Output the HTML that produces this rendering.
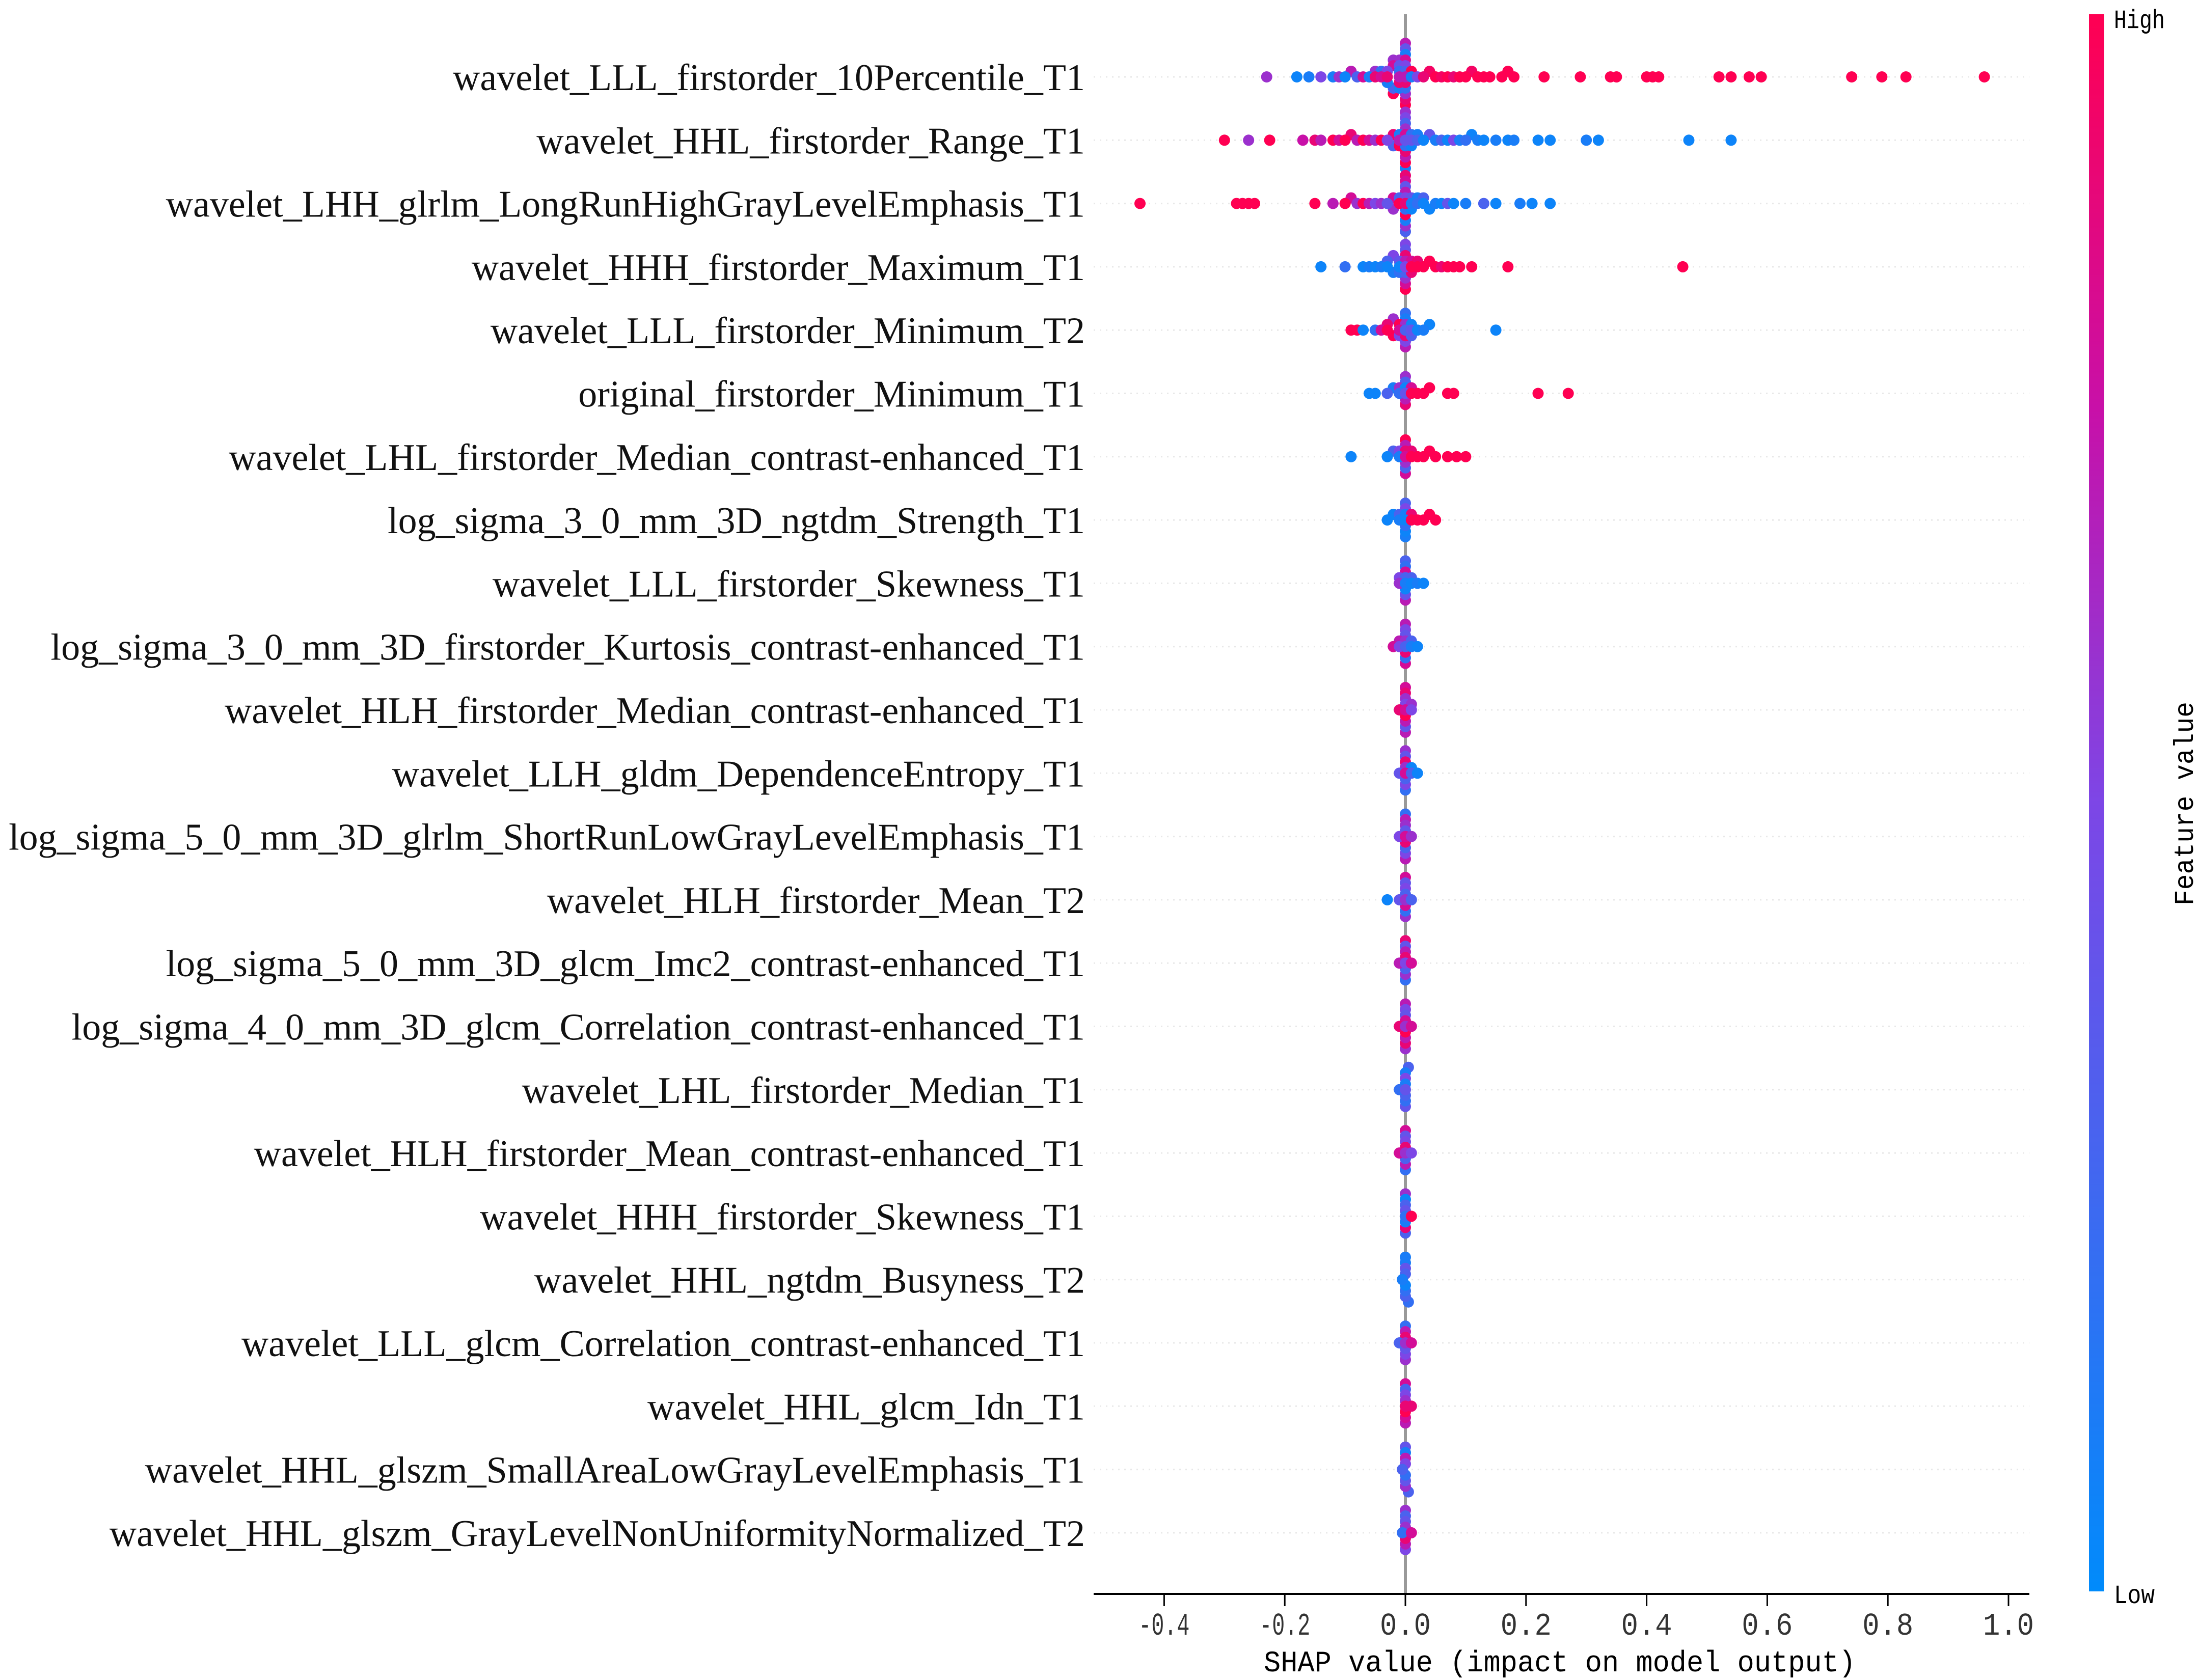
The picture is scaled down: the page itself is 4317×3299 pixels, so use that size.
<!DOCTYPE html>
<html><head><meta charset="utf-8"><title>SHAP summary plot</title>
<style>
html,body{margin:0;padding:0;background:#fff;}
svg{display:block;}
</style></head>
<body>
<svg id="chart" width="4317" height="3299" viewBox="0 0 4317 3299" xmlns="http://www.w3.org/2000/svg">
<defs>
<linearGradient id="cbar" x1="0" y1="1" x2="0" y2="0">
<stop offset="0" stop-color="#008bfb"/>
<stop offset="0.5" stop-color="#7d46e6"/>
<stop offset="0.75" stop-color="#c810a8"/>
<stop offset="1" stop-color="#ff0052"/>
</linearGradient>
</defs>
<g id="grid"></g>
<line x1="2759" y1="28" x2="2759" y2="3130" stroke="#999" stroke-width="6"/>
<g id="dots"></g>
<g id="labels"></g>
<g id="xaxis"></g>
<text x="3062" y="3282" text-anchor="middle" font-family="Liberation Mono, monospace" font-size="58" textLength="1162" lengthAdjust="spacingAndGlyphs">SHAP value (impact on model output)</text>
<rect x="4101" y="28" width="30" height="3097" fill="url(#cbar)"/>
<text x="4150" y="55" font-family="Liberation Mono, monospace" font-size="52" textLength="100" lengthAdjust="spacingAndGlyphs">High</text>
<text x="4150" y="3148" font-family="Liberation Mono, monospace" font-size="52" textLength="80" lengthAdjust="spacingAndGlyphs">Low</text>
<text transform="translate(4305,1578) rotate(-90)" text-anchor="middle" font-family="Liberation Mono, monospace" font-size="54" textLength="400" lengthAdjust="spacingAndGlyphs">Feature value</text>
</svg>
<script>
const features = [
"wavelet_LLL_firstorder_10Percentile_T1",
"wavelet_HHL_firstorder_Range_T1",
"wavelet_LHH_glrlm_LongRunHighGrayLevelEmphasis_T1",
"wavelet_HHH_firstorder_Maximum_T1",
"wavelet_LLL_firstorder_Minimum_T2",
"original_firstorder_Minimum_T1",
"wavelet_LHL_firstorder_Median_contrast-enhanced_T1",
"log_sigma_3_0_mm_3D_ngtdm_Strength_T1",
"wavelet_LLL_firstorder_Skewness_T1",
"log_sigma_3_0_mm_3D_firstorder_Kurtosis_contrast-enhanced_T1",
"wavelet_HLH_firstorder_Median_contrast-enhanced_T1",
"wavelet_LLH_gldm_DependenceEntropy_T1",
"log_sigma_5_0_mm_3D_glrlm_ShortRunLowGrayLevelEmphasis_T1",
"wavelet_HLH_firstorder_Mean_T2",
"log_sigma_5_0_mm_3D_glcm_Imc2_contrast-enhanced_T1",
"log_sigma_4_0_mm_3D_glcm_Correlation_contrast-enhanced_T1",
"wavelet_LHL_firstorder_Median_T1",
"wavelet_HLH_firstorder_Mean_contrast-enhanced_T1",
"wavelet_HHH_firstorder_Skewness_T1",
"wavelet_HHL_ngtdm_Busyness_T2",
"wavelet_LLL_glcm_Correlation_contrast-enhanced_T1",
"wavelet_HHL_glcm_Idn_T1",
"wavelet_HHL_glszm_SmallAreaLowGrayLevelEmphasis_T1",
"wavelet_HHL_glszm_GrayLevelNonUniformityNormalized_T2"
];
const xTicks = [-0.4,-0.2,0.0,0.2,0.4,0.6,0.8,1.0];
const xTickLabels = ["-0.4","-0.2","0.0","0.2","0.4","0.6","0.8","1.0"];
const shapValues = [
[-0.23,-0.18,-0.16,-0.14,-0.12,-0.11,-0.10,-0.09,-0.08,-0.07,-0.06,-0.05,-0.05,-0.04,-0.04,-0.03,-0.03,-0.03,-0.02,-0.02,-0.02,-0.02,-0.01,-0.01,-0.01,-0.01,-0.01,-0.01,0,0,0,0,0,0,0,0,0,0,0,0,0.01,0.01,0.02,0.03,0.04,0.05,0.06,0.07,0.08,0.09,0.10,0.11,0.12,0.13,0.14,0.16,0.17,0.18,0.23,0.29,0.34,0.35,0.40,0.41,0.42,0.52,0.54,0.57,0.59,0.74,0.79,0.83,0.96],
[-0.30,-0.26,-0.225,-0.17,-0.15,-0.14,-0.12,-0.11,-0.10,-0.09,-0.08,-0.07,-0.06,-0.05,-0.04,-0.03,-0.02,-0.02,-0.01,-0.01,-0.01,0,0,0,0,0,0,0,0,0,0,0,0.01,0.01,0.01,0.02,0.02,0.03,0.04,0.05,0.06,0.07,0.08,0.09,0.10,0.11,0.12,0.13,0.15,0.17,0.18,0.22,0.24,0.30,0.32,0.47,0.54],
[-0.44,-0.28,-0.27,-0.26,-0.25,-0.15,-0.12,-0.10,-0.09,-0.08,-0.07,-0.06,-0.05,-0.04,-0.03,-0.02,-0.02,-0.01,-0.01,0,0,0,0,0,0,0,0,0,0,0,0.01,0.01,0.01,0.02,0.02,0.03,0.03,0.04,0.05,0.06,0.07,0.08,0.10,0.13,0.15,0.19,0.21,0.24],
[-0.14,-0.10,-0.07,-0.06,-0.05,-0.04,-0.03,-0.03,-0.02,-0.02,-0.01,-0.01,-0.01,0,0,0,0,0,0,0,0,0,0.01,0.01,0.01,0.02,0.02,0.03,0.04,0.05,0.06,0.07,0.08,0.09,0.11,0.17,0.46],
[-0.09,-0.08,-0.07,-0.05,-0.04,-0.03,-0.03,-0.02,-0.02,-0.01,-0.01,-0.01,0,0,0,0,0,0,0,0.01,0.01,0.01,0.02,0.03,0.04,0.15],
[-0.06,-0.05,-0.03,-0.02,-0.01,-0.01,0,0,0,0,0,0,0.01,0.01,0.02,0.03,0.04,0.07,0.08,0.22,0.27],
[-0.09,-0.03,-0.02,-0.01,-0.01,0,0,0,0,0,0,0,0.01,0.01,0.02,0.03,0.04,0.05,0.07,0.085,0.10],
[-0.03,-0.02,-0.01,-0.01,0,0,0,0,0,0,0,0.01,0.01,0.02,0.03,0.04,0.05],
[-0.01,-0.01,0,0,0,0,0,0,0,0,0.01,0.01,0.02,0.03],
[-0.02,-0.01,-0.01,0,0,0,0,0,0,0,0,0.01,0.01,0.02],
[-0.01,0,0,0,0,0,0,0,0,0,0.01,0.01],
[-0.01,0,0,0,0,0,0,0,0,0.01,0.01,0.02],
[-0.01,0,0,0,0,0,0,0,0,0,0.01],
[-0.03,-0.01,0,0,0,0,0,0,0,0,0.01],
[-0.01,0,0,0,0,0,0,0,0,0.01],
[-0.01,0,0,0,0,0,0,0,0,0,0.01],
[-0.01,0,0,0,0,0,0,0,0.005],
[-0.01,0,0,0,0,0,0,0,0,0.01],
[0,0,0,0,0,0,0,0,0.01],
[-0.005,0,0,0,0,0,0,0,0.005],
[-0.01,0,0,0,0,0,0,0,0.01],
[0,0,0,0,0,0,0,0,0.01],
[-0.005,0,0,0,0,0,0,0,0.005],
[-0.005,0,0,0,0,0,0,0,0.01]
];
const featureValues = [
[0.6,0.05,0.1,0.5,0.1,0.6,0.05,0.7,0.3,0.8,0.1,0.9,0.6,0.8,0.2,0.9,0.5,0.1,0.8,0.3,0.6,1,0.7,0.2,0.9,0.4,0.1,0.6,0.7,0.3,0.9,0.5,0.2,0.8,0.6,0.1,0.9,0.4,1,0.7,0.1,1,0.5,0.9,0.95,1,0.95,1,0.9,1,1,0.95,1,1,1,1,1,1,1,1,1,1,1,1,1,1,1,1,1,1,1,1,1],
[1,0.6,1,0.75,0.9,0.7,1,0.8,1,0.9,0.7,1,0.8,0.6,1,0.5,0.9,0.3,0.7,0.1,1,0.4,0.8,0.2,0.6,0.9,0.3,0.7,0.5,1,0.6,0.1,0.4,0.2,0.05,0.3,0.1,0.05,0.4,0.1,0.3,0.05,0.5,0.1,0.2,0.05,0.1,0.05,0.1,0.05,0.1,0.05,0.05,0.1,0.05,0.05,0.05],
[1,1,1,1,1,1,0.7,1,0.8,0.6,1,0.7,0.5,0.6,0.4,0.8,0.6,1,0.3,0.9,0.5,0.2,0.7,1,0.4,0.1,0.8,0.6,0.9,0.3,0.1,0.4,0.05,0.2,0.1,0.05,0.3,0.05,0.1,0.05,0.4,0.05,0.1,0.3,0.05,0.1,0.05,0.05],
[0.05,0.2,0.05,0.1,0.05,0.1,0.05,0.3,0.1,0.5,0.05,0.4,0.2,0.5,0.7,0.3,0.9,0.6,0.4,0.8,0.5,1,1,0.8,0.9,1,0.9,1,1,1,0.9,1,1,1,1,1,1],
[1,1,0.05,0.2,0.8,1,0.9,1,0.6,0.8,1,0.5,0.3,0.6,0.9,0.1,0.5,0.2,0.7,0.4,0.05,0.3,0.05,0.1,0.05,0.05],
[0.05,0.05,0.3,0.1,0.2,0.6,0.4,0.05,0.7,0.3,0.9,0.6,1,0.8,1,1,1,1,1,1,1],
[0.05,0.05,0.3,0.1,0.5,0.8,0.9,0.6,0.7,0.3,1,0.8,1,0.9,1,1,1,1,1,1,1],
[0.05,0.05,0.1,0.3,0.05,0.1,0.2,0.5,0.05,0.3,0.1,1,0.9,1,1,1,1],
[0.6,0.5,0.1,0.3,0.05,0.8,0.4,0.2,0.7,0.3,0.05,0.3,0.1,0.05],
[0.8,0.5,0.7,0.3,0.6,0.9,0.4,0.2,0.5,0.8,0.7,0.1,0.3,0.05],
[0.9,0.8,0.5,1,0.6,0.7,0.9,0.4,0.8,0.7,0.5,0.6],
[0.4,0.8,0.6,0.3,0.9,0.5,0.4,0.2,0.6,0.3,0.05,0.05],
[0.5,0.8,0.4,0.9,0.6,0.3,0.7,0.5,0.2,0.7,0.6],
[0.05,0.4,0.6,0.3,0.8,0.5,0.2,0.4,0.6,0.8,0.3],
[0.7,0.5,0.9,0.3,0.7,0.6,0.4,0.2,0.9,0.8],
[0.9,0.6,0.8,1,0.4,0.7,0.5,0.9,0.7,0.6,0.8],
[0.2,0.4,0.1,0.3,0.5,0.2,0.1,0.4,0.3],
[0.8,0.6,0.9,0.3,0.5,0.7,0.4,0.2,0.8,0.5],
[0.2,0.4,0.1,0.3,0.9,0.05,0.3,0.6,1],
[0.1,0.3,0.05,0.4,0.2,0.1,0.3,0.1,0.2],
[0.3,0.6,0.9,0.4,0.7,0.5,0.2,0.6,0.8],
[0.9,0.6,1,0.5,0.8,0.3,0.7,0.8,0.9],
[0.3,0.5,0.2,0.7,0.4,0.1,0.6,0.4,0.3],
[0.2,0.6,0.9,0.4,0.7,0.3,0.5,0.6,0.8]
];

const NS = "http://www.w3.org/2000/svg";
const X0 = 2759, XPER = 1184, ROW0 = 151, ROWSTEP = 124.3, AXIS_Y = 3130;
function xScale(v){ return X0 + v * XPER; }
function yRow(i){ return ROW0 + i * ROWSTEP; }
function lerp(a,b,t){ return a + (b-a)*t; }
const stops = [[0,[0,139,251]],[0.5,[125,70,230]],[0.75,[200,16,168]],[1,[255,0,82]]];
function colorOf(t){
  for (let k=1;k<stops.length;k++){
    if (t <= stops[k][0]){
      const a=stops[k-1], b=stops[k];
      const u=(t-a[0])/(b[0]-a[0]);
      return "rgb("+Math.round(lerp(a[1][0],b[1][0],u))+","+Math.round(lerp(a[1][1],b[1][1],u))+","+Math.round(lerp(a[1][2],b[1][2],u))+")";
    }
  }
  return "rgb(255,0,82)";
}
const grid = document.getElementById("grid");
const dots = document.getElementById("dots");
const labels = document.getElementById("labels");
const xaxis = document.getElementById("xaxis");

features.forEach(function(name, i){
  const y = yRow(i);
  const gl = document.createElementNS(NS,"line");
  
  
  gl.setAttribute("x1", 2147); gl.setAttribute("x2", 3984);
  gl.setAttribute("y1", y); gl.setAttribute("y2", y);
  gl.setAttribute("stroke", "#e8e8e8"); gl.setAttribute("stroke-width", 3);
  gl.setAttribute("stroke-dasharray", "3 9");
  grid.appendChild(gl);

  const t = document.createElementNS(NS,"text");
  
  
  t.setAttribute("x", 2130); t.setAttribute("y", y + 26);
  t.setAttribute("text-anchor", "end");
  t.setAttribute("font-family", "Liberation Serif, serif");
  t.setAttribute("font-size", 74);
  t.setAttribute("fill", "#111");
  t.textContent = name;
  labels.appendChild(t);

  const xs = shapValues[i], cs = featureValues[i];
  const bins = {};
  const pts = [];
  xs.forEach(function(v, j){
    const px = xScale(v);
    const b = Math.round(px / 14);
    const n = bins[b] || 0;
    bins[b] = n + 1;
    const off = n === 0 ? 0 : Math.ceil(n/2) * 11 * (n % 2 ? -1 : 1);
    pts.push([px, y + off, cs[j], Math.abs(off)]);
  });
  pts.sort(function(a,b){ return b[3]-a[3]; });
  pts.forEach(function(p){
    const c = document.createElementNS(NS,"circle");
    
    
    c.setAttribute("cx", p[0].toFixed(1));
    c.setAttribute("cy", p[1].toFixed(1));
    c.setAttribute("r", 11);
    c.setAttribute("fill", colorOf(p[2]));
    dots.appendChild(c);
  });
});

const ax = document.createElementNS(NS,"line");


ax.setAttribute("x1", 2147); ax.setAttribute("x2", 3984);
ax.setAttribute("y1", AXIS_Y); ax.setAttribute("y2", AXIS_Y);
ax.setAttribute("stroke", "#000"); ax.setAttribute("stroke-width", 4);
xaxis.appendChild(ax);
xTicks.forEach(function(v, k){
  const x = xScale(v);
  const tk = document.createElementNS(NS,"line");
  
  
  tk.setAttribute("x1", x); tk.setAttribute("x2", x);
  tk.setAttribute("y1", AXIS_Y); tk.setAttribute("y2", AXIS_Y + 24);
  tk.setAttribute("stroke", "#000"); tk.setAttribute("stroke-width", 3);
  xaxis.appendChild(tk);
  const tl = document.createElementNS(NS,"text");
  
  
  tl.setAttribute("x", x); tl.setAttribute("y", 3210);
  tl.setAttribute("text-anchor", "middle");
  tl.setAttribute("font-family", "Liberation Mono, monospace");
  tl.setAttribute("font-size", 62);
  tl.setAttribute("fill", "#333");
  tl.setAttribute("textLength", 100);
  tl.setAttribute("lengthAdjust", "spacingAndGlyphs");
  tl.textContent = xTickLabels[k];
  xaxis.appendChild(tl);
});
</script>
</body></html>
